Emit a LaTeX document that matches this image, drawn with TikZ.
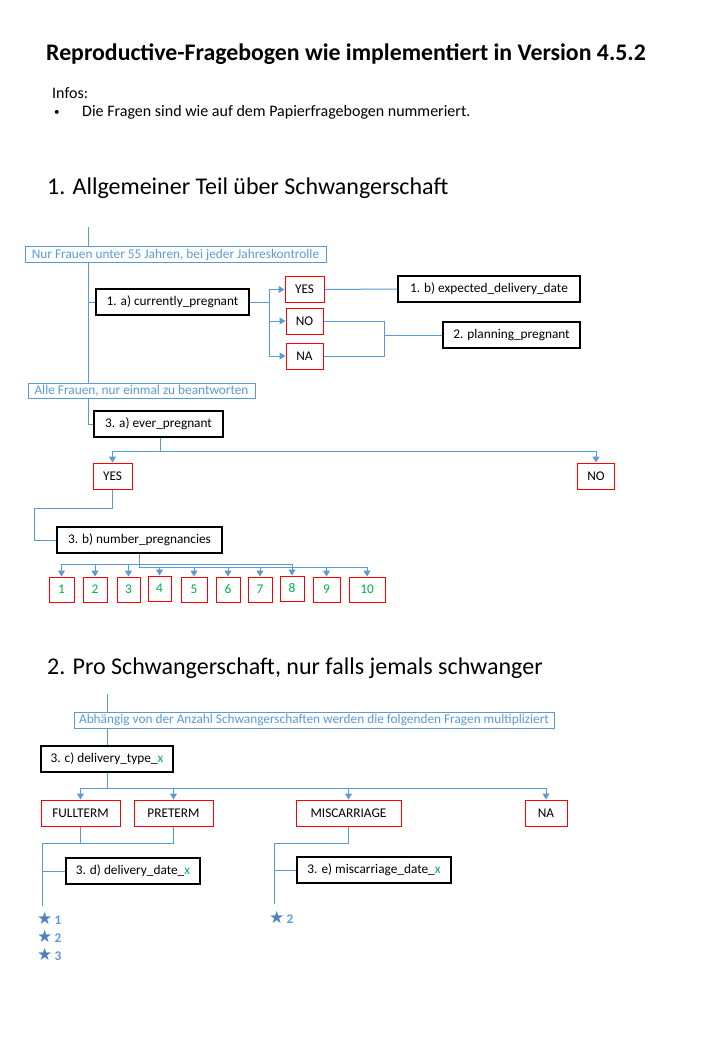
\documentclass[tikz,border=0pt]{standalone}
\usepackage{fontspec}
\setmainfont{Carlito}
\newfontfamily\djv{DejaVu Sans}
\usetikzlibrary{arrows.meta,backgrounds}
\definecolor{lineblue}{HTML}{5B9BD5}
\definecolor{starblue}{HTML}{4F81BD}
\definecolor{xgreen}{HTML}{00B050}
\newcommand{\boxfont}{\fontsize{13.3}{16}\selectfont}
\newcommand{\lblfont}{\fontsize{13.3}{15}\selectfont}
\newcommand{\gx}{\textcolor{xgreen}{x}}
\newcommand{\stargl}{{\color{starblue}\djv\fontsize{17}{18}\selectfont ★}}
\tikzset{
  conn/.style={draw=lineblue, line width=1pt},
  arr/.style={conn, -{Triangle[width=7pt,length=6pt]}},
  bbox/.style={draw=black, line width=2pt, fill=white, inner sep=0pt, font=\boxfont},
  rbox/.style={draw=red, line width=1pt, fill=white, inner sep=0pt, font=\boxfont},
  nbox/.style={rbox, text=xgreen, minimum height=25pt},
  lbl/.style={draw=lineblue, line width=1pt, fill=white, text=lineblue, inner sep=0pt, font=\lblfont},
  starlbl/.style={inner sep=0pt, anchor=west, text=lineblue, font=\boxfont\bfseries},
  plain/.style={inner sep=0pt, anchor=base west}
}
\begin{document}
\begin{tikzpicture}[x=1pt,y=-1pt]
\useasboundingbox (0,0) rectangle (720,1040);
% headings
\node[plain, font=\fontsize{23.8}{28}\selectfont\bfseries] (title) at (46,61) {Reproductive-Fragebogen wie implementiert in Version 4.5.2};
\node[plain, font=\fontsize{16}{19}\selectfont] (infos) at (52,99) {Infos:};
\node[plain, font=\fontsize{11}{14}\selectfont] (bullet) at (54,116) {•};
\node[plain, font=\fontsize{16}{19}\selectfont] (info1) at (82,117) {Die Fragen sind wie auf dem Papierfragebogen nummeriert.};
\node[plain, font=\fontsize{24}{28}\selectfont] (h1) at (47,195) {1. Allgemeiner Teil über Schwangerschaft};
\node[plain, font=\fontsize{24}{28}\selectfont] (h2) at (47,674) {2. Pro Schwangerschaft, nur falls jemals schwanger};

% section 1
\coordinate (top1) at (88,227);
\node[lbl, minimum width=301pt, minimum height=16pt] (nb) at (175.5,255) {Nur Frauen unter 55 Jahren, bei jeder Jahreskontrolle};
\node[bbox, minimum width=153pt, minimum height=26pt] (cp) at (172.5,302) {1. a) currently\_pregnant};
\node[rbox, minimum width=39pt, minimum height=25pt] (yes1) at (304.5,289.5) {YES};
\node[rbox, minimum width=37pt, minimum height=26pt] (no1) at (304.5,321) {NO};
\node[rbox, minimum width=37pt, minimum height=26pt] (na1) at (304.5,356) {NA};
\node[bbox, minimum width=182pt, minimum height=26pt] (exp) at (489,289) {1. b) expected\_delivery\_date};
\node[bbox, minimum width=137pt, minimum height=26pt] (plan) at (511.5,335) {2. planning\_pregnant};
\node[lbl, minimum width=227pt, minimum height=15pt] (ab) at (141.5,390.5) {Alle Frauen, nur einmal zu beantworten};
\node[bbox, minimum width=129pt, minimum height=26pt] (ep) at (158.5,424) {3. a) ever\_pregnant};
\node[rbox, minimum width=39pt, minimum height=26pt] (yes2) at (112.5,476) {YES};
\node[rbox, minimum width=37pt, minimum height=26pt] (no2) at (596,476) {NO};
\node[bbox, minimum width=165pt, minimum height=26pt] (np) at (139.5,540) {3. b) number\_pregnancies};
\node[nbox, minimum width=25pt] (n1) at (61.5,589.5) {1};
\node[nbox, minimum width=24pt] (n2) at (95,589.5) {2};
\node[nbox, minimum width=23pt] (n3) at (128.5,589.5) {3};
\node[nbox, minimum width=23pt] (n4) at (159.5,588.5) {4};
\node[nbox, minimum width=26pt] (n5) at (194,589.5) {5};
\node[nbox, minimum width=24pt] (n6) at (228,589.5) {6};
\node[nbox, minimum width=24pt] (n7) at (260,589.5) {7};
\node[nbox, minimum width=24pt] (n8) at (292,588.5) {8};
\node[nbox, minimum width=27pt] (n9) at (326.5,589.5) {9};
\node[nbox, minimum width=36pt] (n10) at (367,589.5) {10};
\coordinate (c1) at (34,508);

% section 2
\coordinate (top2) at (107,694);
\node[lbl, minimum width=480pt, minimum height=16pt] (ak) at (314,720) {Abhängig von der Anzahl Schwangerschaften werden die folgenden Fragen multipliziert};
\node[bbox, minimum width=132pt, minimum height=26pt] (dt) at (107,759) {3. c) delivery\_type\_\gx};
\node[rbox, minimum width=79pt, minimum height=26pt] (ft) at (80.5,813) {FULLTERM};
\node[rbox, minimum width=79pt, minimum height=26pt] (pt) at (173.5,813) {PRETERM};
\node[rbox, minimum width=105pt, minimum height=26pt] (mc) at (348.5,813) {MISCARRIAGE};
\node[rbox, minimum width=42pt, minimum height=26pt] (na2) at (546,813) {NA};
\node[bbox, minimum width=134pt, minimum height=26pt] (dd) at (133,871) {3. d) delivery\_date\_\gx};
\node[bbox, minimum width=154pt, minimum height=26pt] (md) at (374,870) {3. e) miscarriage\_date\_\gx};
\coordinate (c2) at (42,843);
\coordinate (c3) at (42,906);
\coordinate (c4) at (274,843);
\coordinate (c5) at (274,904);
\node[starlbl] (s1) at (37,918) {\stargl\,1};
\node[starlbl] (s2) at (37,936) {\stargl\,2};
\node[starlbl] (s3) at (37,954) {\stargl\,3};
\node[starlbl] (s4) at (269,917) {\stargl\,2};

\begin{pgfonlayer}{background}
% section 1 connectors
\draw[conn] (top1) |- (ep.west);
\draw[conn] (top1 |- cp.west) -- (cp.west);
\draw[arr] (cp.east) -- ++(19,0) |- (yes1.west);
\draw[arr] (cp.east) -- ++(19,0) |- (no1.west);
\draw[arr] (cp.east) -- ++(19,0) |- (na1.west);
\draw[conn] (yes1.east) -- (exp.west);
\draw[conn] (no1.east) -- ++(61,0) |- (plan.west);
\draw[conn] (na1.east) -- ++(61,0) |- (plan.west);
\draw[arr] (ep.south) ++(2,0) -- ++(0,13) -| (yes2.north);
\draw[arr] (ep.south) ++(2,0) -- ++(0,13) -| (no2.north);
\draw[conn] (yes2.south) |- (c1) |- (np.west);
\foreach \n in {n1,n2,n3,n8}{
  \draw[arr] (np.south) -- ++(0,10) -| (\n.north);
}
\foreach \n in {n4,n5,n6,n7,n9,n10}{
  \draw[arr] (np.south) -- ++(0,13) -| (\n.north);
}
% section 2 connectors
\draw[conn] (top2) -- (dt.north);
\draw[arr] (dt.south) -- ++(0,15) -| (ft.north);
\draw[arr] (dt.south) -- ++(0,15) -| (pt.north);
\draw[arr] (dt.south) -- ++(0,15) -| (mc.north);
\draw[arr] (dt.south) -- ++(0,15) -| (na2.north);
\draw[conn] (ft.south) |- (c2);
\draw[conn] (pt.south) |- (c2);
\draw[conn] (c2) -- (c3);
\draw[conn] (c2 |- dd.west) -- (dd.west);
\draw[conn] (mc.south) |- (c4);
\draw[conn] (c4) -- (c5);
\draw[conn] (c4 |- md.west) -- (md.west);
\end{pgfonlayer}
\end{tikzpicture}
\end{document}
